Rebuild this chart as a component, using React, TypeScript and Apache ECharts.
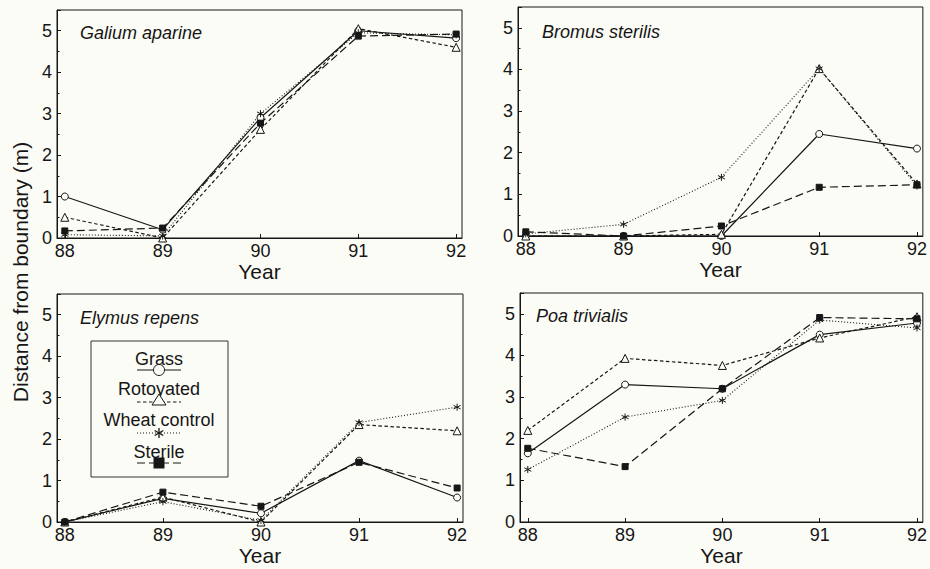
import React, { useEffect, useRef } from "react";
import * as echarts from "echarts";

const years = [88, 89, 90, 91, 92];
const treatments = ["Grass", "Rotoyated", "Wheat control", "Sterile"];
const species = ["Galium aparine", "Bromus sterilis", "Elymus repens", "Poa trivialis"];
const yTicks = [0, 1, 2, 3, 4, 5];

// Galium aparine
const galiumGrass = [1.0, 0.2, 2.9, 5.0, 4.82];
const galiumRoto = [0.5, 0.0, 2.62, 5.05, 4.6];
const galiumWheat = [0.08, 0.05, 3.0, 4.95, 4.9];
const galiumSterile = [0.17, 0.24, 2.77, 4.87, 4.92];
// Bromus sterilis
const bromusGrass = [0.0, 0.0, 0.0, 2.45, 2.1];
const bromusRoto = [0.0, 0.0, 0.04, 4.02, 1.25];
const bromusWheat = [0.05, 0.28, 1.41, 4.02, 1.2];
const bromusSterile = [0.1, 0.0, 0.24, 1.17, 1.23];
// Elymus repens
const elymusGrass = [0.0, 0.57, 0.21, 1.48, 0.59];
const elymusRoto = [0.0, 0.6, 0.0, 2.35, 2.2];
const elymusWheat = [0.0, 0.49, 0.04, 2.4, 2.77];
const elymusSterile = [0.0, 0.72, 0.38, 1.44, 0.82];
// Poa trivialis
const poaGrass = [1.65, 3.3, 3.2, 4.5, 4.78];
const poaRoto = [2.2, 3.93, 3.76, 4.42, 4.93];
const poaWheat = [1.26, 2.52, 2.92, 4.85, 4.66];
const poaSterile = [1.77, 1.33, 3.2, 4.91, 4.88];

const panelData = [
  [galiumGrass, galiumRoto, galiumWheat, galiumSterile],
  [bromusGrass, bromusRoto, bromusWheat, bromusSterile],
  [elymusGrass, elymusRoto, elymusWheat, elymusSterile],
  [poaGrass, poaRoto, poaWheat, poaSterile],
];

const INK = "#161616";
const BG = "#fcfcf7";
const FONT = "'Liberation Sans', Arial, Helvetica, sans-serif";
const STAR = "path://M5,0L5,10M0.67,2.5L9.33,7.5M0.67,7.5L9.33,2.5";

const grids = [
  { left: 57, top: 10, width: 405, height: 228 },
  { left: 518, top: 7, width: 407, height: 229 },
  { left: 57, top: 294, width: 406, height: 228 },
  { left: 520, top: 293, width: 404, height: 229 },
];
const labelPos = [
  [80, 33],
  [542, 32],
  [80, 318],
  [536, 316],
];

const lineTypes: any[] = ["solid", [3.5, 2.5], [1, 2], [8, 4]];
const symbols = ["circle", "triangle", STAR, "rect"];
const symbolSizes = [7, 8, 7, 6];
const symbolFill = [BG, BG, INK, INK];

export default function App() {
  const ref = useRef<HTMLDivElement>(null);
  useEffect(() => {
    if (!ref.current) return;
    const chart = echarts.init(ref.current, undefined, { renderer: "svg" });

    const xAxis = grids.map((_, i) => ({
      type: "value",
      gridIndex: i,
      min: 87.92,
      max: 92.06,
      minInterval: 1,
      name: "Year",
      nameLocation: "middle",
      nameGap: 22,
      nameTextStyle: { fontFamily: FONT, fontSize: 21, color: INK },
      axisLine: { show: true, lineStyle: { color: INK, width: 1 } },
      axisTick: { show: true, inside: true, length: 4, lineStyle: { color: INK } },
      axisLabel: {
        fontFamily: FONT,
        fontSize: 18,
        color: INK,
        margin: 4,
        showMinLabel: false,
        showMaxLabel: false,
        formatter: (v: number) => (years.includes(Math.round(v * 1000) / 1000) ? String(Math.round(v)) : ""),
      },
      splitLine: { show: false },
    }));

    const yAxis = grids.map((_, i) => ({
      type: "value",
      gridIndex: i,
      min: 0,
      max: 5.5,
      interval: 1,
      axisLine: { show: true, lineStyle: { color: INK, width: 1 } },
      axisTick: { show: true, inside: true, length: 4, lineStyle: { color: INK } },
      minorTick: { show: true, splitNumber: 2, length: 2.5, lineStyle: { color: INK } },
      axisLabel: {
        fontFamily: FONT,
        fontSize: 18,
        color: INK,
        margin: 5,
        formatter: (v: number) => (yTicks.includes(v) ? String(v) : ""),
      },
      splitLine: { show: false },
    }));

    const series: any[] = [];
    panelData.forEach((sets, p) => {
      sets.forEach((vals, t) => {
        series.push({
          type: "line",
          name: treatments[t],
          xAxisIndex: p,
          yAxisIndex: p,
          data: years.map((y, k) => [y, vals[k]]),
          symbol: symbols[t],
          symbolSize: symbolSizes[t],
          showSymbol: true,
          lineStyle: { color: INK, width: t === 2 ? 1.1 : 1.2, type: lineTypes[t] },
          itemStyle: { color: symbolFill[t], borderColor: INK, borderWidth: 1 },
          z: 2,
        });
      });
    });

    // legend drawn manually inside the Elymus panel
    const lgX = 159;
    const lgTextY = [359, 389, 420, 452];
    const lgLineY = [370, 402, 433, 463];
    const legendEls: any[] = [
      {
        type: "rect",
        shape: { x: 91, y: 341, width: 137, height: 136 },
        style: { fill: "none", stroke: "#333", lineWidth: 1 },
      },
    ];
    treatments.forEach((name, t) => {
      legendEls.push({
        type: "text",
        x: lgX,
        y: lgTextY[t],
        style: {
          text: name,
          fontFamily: FONT,
          fontSize: 18,
          fill: INK,
          textAlign: "center",
          textVerticalAlign: "middle",
        },
      });
      legendEls.push({
        type: "line",
        shape: { x1: 137, y1: lgLineY[t], x2: 181, y2: lgLineY[t] },
        style: { stroke: INK, lineWidth: 1.2, lineDash: t === 0 ? null : lineTypes[t] },
      });
    });
    legendEls.push({
      type: "circle",
      shape: { cx: lgX, cy: lgLineY[0], r: 5.5 },
      style: { fill: BG, stroke: INK, lineWidth: 1 },
      z: 10,
    });
    legendEls.push({
      type: "polygon",
      shape: { points: [[lgX, lgLineY[1] - 8], [lgX - 7, lgLineY[1] + 3], [lgX + 7, lgLineY[1] + 3]] },
      style: { fill: BG, stroke: INK, lineWidth: 1 },
      z: 10,
    });
    [0, 60, 120].forEach((a) => {
      const r = (a * Math.PI) / 180;
      legendEls.push({
        type: "line",
        shape: {
          x1: lgX - 5 * Math.sin(r),
          y1: lgLineY[2] - 5 * Math.cos(r),
          x2: lgX + 5 * Math.sin(r),
          y2: lgLineY[2] + 5 * Math.cos(r),
        },
        style: { stroke: INK, lineWidth: 1.3 },
        z: 10,
      });
    });
    legendEls.push({
      type: "rect",
      shape: { x: lgX - 5.5, y: lgLineY[3] - 5.5, width: 11, height: 11 },
      style: { fill: INK },
      z: 10,
    });

    const speciesLabels = species.map((s, i) => ({
      type: "text",
      x: labelPos[i][0],
      y: labelPos[i][1],
      style: {
        text: s,
        fontFamily: FONT,
        fontStyle: "italic",
        fontSize: 18,
        fill: INK,
        textVerticalAlign: "middle",
      },
    }));

    chart.setOption({
      animation: false,
      backgroundColor: BG,
      grid: grids.map((g) => ({ ...g, show: true, borderColor: INK, borderWidth: 1, backgroundColor: "transparent" })),
      xAxis,
      yAxis,
      series,
      graphic: [
        ...speciesLabels,
        ...legendEls,
        {
          type: "text",
          x: 20,
          y: 272,
          rotation: Math.PI / 2,
          style: {
            text: "Distance from boundary (m)",
            fontFamily: FONT,
            fontSize: 21,
            fill: INK,
            textAlign: "center",
            textVerticalAlign: "middle",
          },
        },
      ],
    });
    return () => chart.dispose();
  }, []);

  return (
    <div
      ref={ref}
      style={{ position: "absolute", left: 0, top: 0, width: 930, height: 569 }}
    />
  );
}
